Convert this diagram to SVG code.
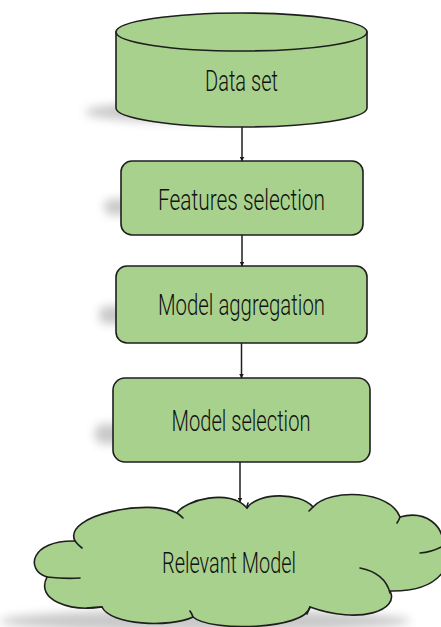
<svg xmlns="http://www.w3.org/2000/svg" width="441" height="627" viewBox="0 0 441 627">
  <defs>
    <style>
      .shape { fill: #a9d18e; stroke: #1e1e1e; stroke-width: 1.6; }
      .inner { fill: none; stroke: #1e1e1e; stroke-width: 1.6; stroke-linecap: round; }
      .label { font-family: Roboto, "Liberation Sans", Arial, sans-serif; font-weight: 300; font-size: 30px; fill: #111; }
      .shadow { fill: #7a7a7a; opacity: 0.4; filter: url(#soft); }
      .link { stroke: #1e1e1e; stroke-width: 1.5; fill: none; marker-end: url(#head); }
    </style>
    <filter id="soft" x="-50%" y="-50%" width="200%" height="200%">
      <feGaussianBlur stdDeviation="5"/>
    </filter>
    <marker id="head" viewBox="0 0 10 10" refX="9" refY="5" markerWidth="5" markerHeight="5" orient="auto" markerUnits="userSpaceOnUse">
      <path d="M0,0 L10,5 L0,10 Z" fill="#1e1e1e"/>
    </marker>
  </defs>

  <rect width="441" height="627" fill="#ffffff"/>

  <!-- Dataset cylinder -->
  <g id="dataset">
    <ellipse class="shadow" cx="180" cy="112" rx="95" ry="10"/>
    <path class="shape" d="M116,32 L116,108 A125.5,19 0 0 0 367,108 L367,32 Z"/>
    <ellipse class="shape" cx="241.5" cy="32" rx="125.5" ry="19"/>
    <text class="label" x="241.5" y="91" text-anchor="middle" textLength="73" lengthAdjust="spacingAndGlyphs">Data set</text>
  </g>

  <!-- Processing steps -->
  <g id="features-selection">
    <rect class="shadow" x="104" y="199" width="150" height="16" rx="8"/>
    <rect class="shape" x="121" y="161" width="242" height="74" rx="11"/>
    <text class="label" x="241.5" y="210" text-anchor="middle" textLength="167" lengthAdjust="spacingAndGlyphs">Features selection</text>
  </g>

  <g id="model-aggregation">
    <rect class="shadow" x="99" y="306" width="150" height="18" rx="8"/>
    <rect class="shape" x="116" y="266" width="251" height="77" rx="11"/>
    <text class="label" x="241.5" y="315" text-anchor="middle" textLength="167" lengthAdjust="spacingAndGlyphs">Model aggregation</text>
  </g>

  <g id="model-selection">
    <rect class="shadow" x="95" y="424" width="150" height="20" rx="8"/>
    <rect class="shape" x="113" y="378" width="257" height="84" rx="12"/>
    <text class="label" x="241" y="431" text-anchor="middle" textLength="139" lengthAdjust="spacingAndGlyphs">Model selection</text>
  </g>

  <!-- Result cloud -->
  <g id="relevant-model">
    <ellipse class="shadow" cx="205" cy="621" rx="205" ry="11"/>
    <path class="shape" d="M75,541 C62,515 150,498 177,513 C185,500 230,488 247,508 C258,492 300,492 313,507 C330,488 390,490 400,517 C425,510 445,525 443,548 C455,558 445,592 390,591 C400,610 360,625 310,607 C305,630 210,632 193,617 C170,628 110,625 102,607 C70,612 35,600 47,577 C25,570 30,540 75,541 Z"/>
    <path class="inner" d="M75,541 Q78,545 82,548 M47,577 Q65,579 80,578 M87,608 Q95,607 102,607 M177,513 Q180,515 183,518 M247,508 Q247,505 248,503 M313,507 Q311,509 309,511 M400,517 Q399,520 397,523 M443,546 Q432,552 420,553 M360,568 Q385,573 390,593 M310,607 Q308,611 307,614 M193,617 Q192,614 190,611"/>
    <text class="label" x="229" y="573" text-anchor="middle" textLength="134" lengthAdjust="spacingAndGlyphs">Relevant Model</text>
  </g>

  <!-- Connectors -->
  <g id="connectors">
    <line class="link" x1="242" y1="127" x2="242" y2="161"/>
    <line class="link" x1="242" y1="235" x2="242" y2="266"/>
    <line class="link" x1="241.5" y1="343" x2="241.5" y2="378"/>
    <line class="link" x1="240" y1="462" x2="240" y2="502"/>
  </g>
</svg>
